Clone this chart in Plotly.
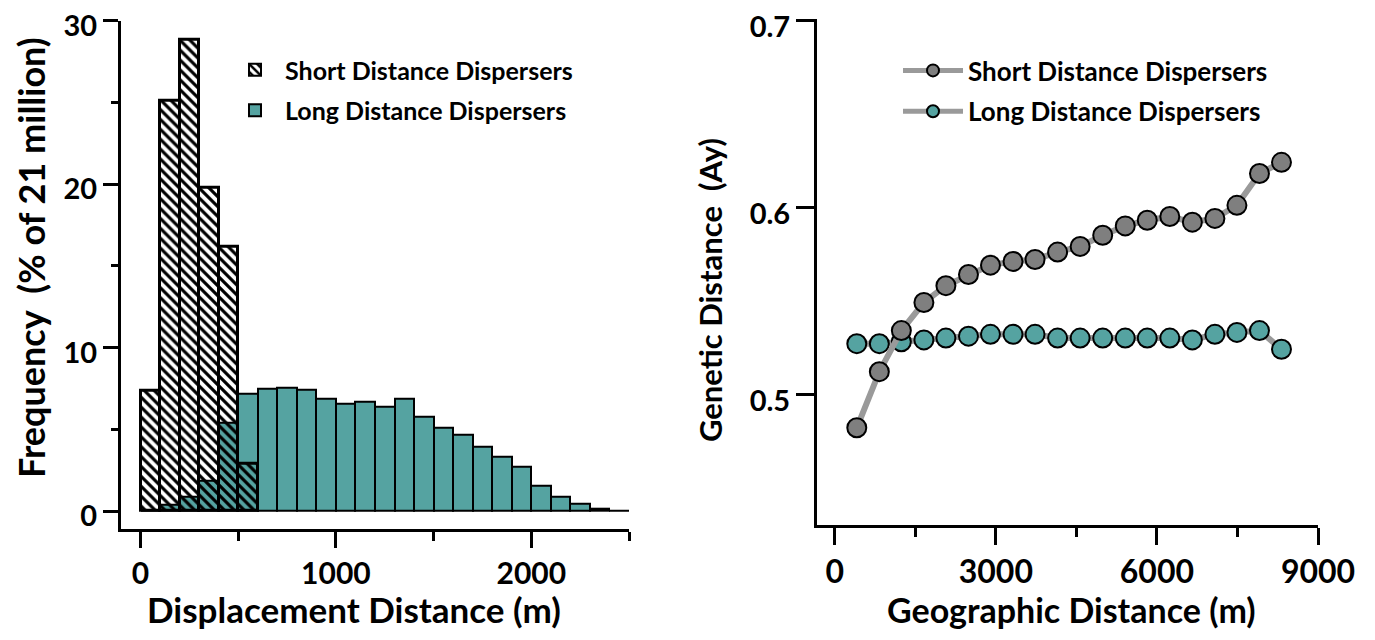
import plotly.graph_objects as go

# ---------------- data ----------------
# Left: histogram of displacement distances (bins of 100 m)
short_bin_centers = [50, 150, 250, 350, 450, 550]
short_freq = [7.38, 25.09, 28.86, 19.78, 16.18, 2.90]

long_bin_centers = [50, 150, 250, 350, 450, 550, 650, 750, 850, 950,
                    1050, 1150, 1250, 1350, 1450, 1550, 1650, 1750, 1850, 1950,
                    2050, 2150, 2250, 2350, 2450]
long_freq = [0.05, 0.37, 0.85, 1.86, 5.39, 7.15, 7.47, 7.57, 7.41, 6.88,
             6.54, 6.70, 6.41, 6.90, 5.76, 5.11, 4.70, 3.96, 3.35, 2.74,
             1.55, 0.86, 0.47, 0.14, 0.04]

# Right: genetic distance vs geographic distance
geo_dist = [410, 830, 1240, 1660, 2070, 2490, 2900, 3320, 3730, 4150,
            4570, 4990, 5410, 5820, 6240, 6660, 7080, 7490, 7910, 8320]
gen_short = [0.482, 0.512, 0.534, 0.549, 0.558, 0.564, 0.569, 0.571, 0.572, 0.576,
             0.579, 0.585, 0.590, 0.593, 0.595, 0.592, 0.594, 0.601, 0.618, 0.624]
gen_long = [0.527, 0.527, 0.528, 0.529, 0.530, 0.531, 0.532, 0.532, 0.532, 0.530,
            0.530, 0.530, 0.530, 0.530, 0.530, 0.529, 0.532, 0.533, 0.534, 0.524]

series_names = ["Short Distance Dispersers", "Long Distance Dispersers"]
hist_x_ticks = [0, 1000, 2000]
hist_y_ticks = [0, 10, 20, 30]
geo_x_ticks = [0, 3000, 6000, 9000]
gen_y_ticks = [0.5, 0.6, 0.7]
gen_y_labels = ["0.5", "0.6", "0.7"]

TEAL = "#55A3A1"
GREY = "#7F7F7F"
LINE_GREY = "#9A9A9A"
FONT = "Lato"

fig = go.Figure()

# Long distance bars (drawn first)
fig.add_trace(go.Bar(
    x=long_bin_centers, y=long_freq, width=100,
    name=series_names[1], legend="legend", legendgroup="b",
    marker=dict(color=TEAL, line=dict(color="black", width=2)),
    xaxis="x", yaxis="y", legendrank=2,
))
# Short distance bars (hatched, on top)
fig.add_trace(go.Bar(
    x=short_bin_centers, y=short_freq, width=100,
    name=series_names[0], legend="legend", legendgroup="a",
    marker=dict(color="rgba(0,0,0,0)", line=dict(color="black", width=3),
                pattern=dict(shape="\\", fgcolor="black", fgopacity=1, size=7,
                             solidity=0.45, fillmode="overlay")),
    xaxis="x", yaxis="y", legendrank=1,
))

# Right chart lines
fig.add_trace(go.Scatter(
    x=geo_dist, y=gen_long, mode="lines+markers", name=series_names[1],
    legend="legend2", legendgroup="d", legendrank=2,
    line=dict(color=LINE_GREY, width=6),
    marker=dict(size=19, color=TEAL, line=dict(color="black", width=2)),
    xaxis="x2", yaxis="y2",
))
fig.add_trace(go.Scatter(
    x=geo_dist, y=gen_short, mode="lines+markers", name=series_names[0],
    legend="legend2", legendgroup="c", legendrank=1,
    line=dict(color=LINE_GREY, width=6),
    marker=dict(size=19, color=GREY, line=dict(color="black", width=2)),
    xaxis="x2", yaxis="y2",
))

# page offset of the figure (default body margin) and figure size
OFF = 8
W, H = 1359, 624
def px_x(p):
    return (p - OFF) / W
def px_y(p):
    return 1 - (p - OFF) / H

def tfont(size):
    return dict(family=FONT, size=size, color="black", weight="bold")

axis_common = dict(showline=True, linewidth=3, linecolor="black", showgrid=False,
                   zeroline=False, ticks="outside", tickwidth=3, tickcolor="black",
                   automargin=False, ticklabeloverflow="allow")

fig.update_layout(
    width=W, height=H,
    margin=dict(l=0, r=0, t=0, b=0),
    paper_bgcolor="white", plot_bgcolor="white",
    barmode="overlay", bargap=0,
    showlegend=True,
    xaxis=dict(domain=[px_x(121), px_x(629)], range=[-100, 2500], anchor="y",
               tickvals=hist_x_ticks, ticklen=16, tickfont=tfont(30),
               minor=dict(ticks="outside", dtick=500, tick0=0, ticklen=9, tickwidth=3,
                          tickcolor="black"),
               **axis_common),
    yaxis=dict(domain=[px_y(529), px_y(20.7)], range=[-1.1, 30], anchor="x",
               tickvals=hist_y_ticks, ticklen=15, tickfont=tfont(29),
               ticklabelshift=5,
               minor=dict(ticks="outside", dtick=5, tick0=0, ticklen=7, tickwidth=3,
                          tickcolor="black"),
               **axis_common),
    xaxis2=dict(domain=[px_x(817), px_x(1318)], range=[-331, 9000], anchor="y2",
                tickvals=geo_x_ticks, ticklen=17, tickfont=tfont(32),
                minor=dict(ticks="outside", dtick=1500, tick0=0, ticklen=9, tickwidth=3,
                           tickcolor="black"),
                **axis_common),
    yaxis2=dict(domain=[px_y(525), px_y(19.3)], range=[0.430, 0.7005], anchor="x2",
                tickvals=gen_y_ticks, ticktext=gen_y_labels, ticklen=18,
                tickfont=tfont(29), ticklabelshift=7,
                **axis_common),
    legend=dict(x=px_x(225), y=px_y(47), xanchor="left", yanchor="top",
                font=tfont(25),
                bgcolor="rgba(0,0,0,0)", traceorder="grouped", tracegroupgap=5,
                itemsizing="constant", itemwidth=50),
    legend2=dict(x=px_x(898), y=px_y(47), xanchor="left", yanchor="top",
                 font=tfont(26),
                 bgcolor="rgba(0,0,0,0)", traceorder="grouped", tracegroupgap=4,
                 itemsizing="constant", itemwidth=60),
    annotations=[
        dict(text="Displacement Distance (m)", xref="paper", yref="paper",
             x=px_x(354), y=0, xanchor="center", yanchor="bottom",
             showarrow=False, font=tfont(35)),
        dict(text="Geographic Distance (m)", xref="paper", yref="paper",
             x=px_x(1071), y=0, xanchor="center", yanchor="bottom",
             showarrow=False, font=tfont(34)),
        dict(text="Frequency  (% of 21 million)", xref="paper", yref="paper",
             x=px_x(31), y=px_y(258), xanchor="center", yanchor="middle",
             textangle=-90, showarrow=False, font=tfont(36)),
        dict(text="Genetic Distance  (Ay)", xref="paper", yref="paper",
             x=px_x(710), y=px_y(290), xanchor="center", yanchor="middle",
             textangle=-90, showarrow=False, font=tfont(31)),
    ],
)

fig.write_html("out.html")
